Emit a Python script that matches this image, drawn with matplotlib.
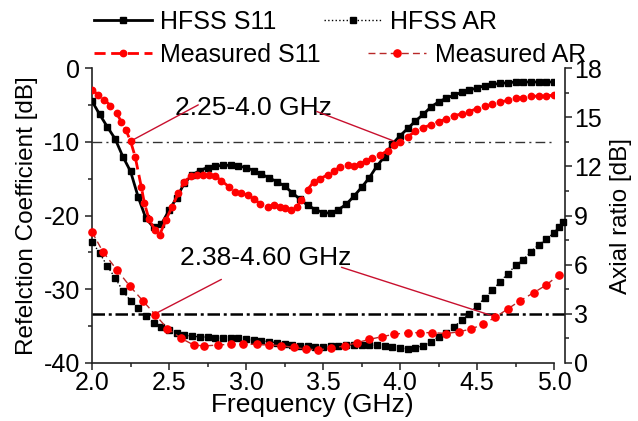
import matplotlib
matplotlib.use('Agg')
import matplotlib.pyplot as plt
from matplotlib.lines import Line2D
from matplotlib.ticker import MultipleLocator

plt.rcParams['font.family'] = ['Liberation Sans', 'DejaVu Sans']
plt.rcParams['axes.unicode_minus'] = False

# ---------------- data ----------------
freq_hfss = [2.00, 2.05, 2.10, 2.15, 2.20, 2.25, 2.30, 2.35, 2.40, 2.45,
             2.50, 2.55, 2.60, 2.65, 2.70, 2.75, 2.80, 2.85, 2.90, 2.95,
             3.00, 3.05, 3.10, 3.15, 3.20, 3.25, 3.30, 3.35, 3.40, 3.45,
             3.50, 3.55, 3.60, 3.65, 3.70, 3.75, 3.80, 3.85, 3.90, 3.95,
             4.00, 4.05, 4.10, 4.15, 4.20, 4.25, 4.30, 4.35, 4.40, 4.45,
             4.50, 4.55, 4.60, 4.65, 4.70, 4.75, 4.80, 4.85, 4.90, 4.95,
             5.00]
hfss_s11 = [-4.5, -6.3, -8.0, -9.6, -12.0, -14.0, -17.5, -20.4, -21.6, -21.2,
            -19.3, -17.6, -15.6, -14.5, -13.9, -13.5, -13.3, -13.2, -13.2, -13.3,
            -13.5, -13.9, -14.4, -14.9, -15.4, -16.0, -16.9, -17.8, -18.6, -19.2,
            -19.6, -19.7, -19.2, -18.5, -17.4, -16.2, -14.9, -13.3, -12.0, -10.3,
            -9.2, -8.2, -7.2, -6.3, -5.3, -4.6, -4.1, -3.7, -3.3, -3.0,
            -2.7, -2.4, -2.2, -2.1, -2.0, -1.9, -1.9, -1.9, -1.9, -1.9,
            -1.9]

freq_meas_s11 = [2.00, 2.04, 2.08, 2.12, 2.16, 2.19, 2.22, 2.25, 2.28, 2.32,
                 2.34, 2.37, 2.41, 2.44, 2.48, 2.52, 2.56, 2.60, 2.64, 2.68,
                 2.72, 2.76, 2.80, 2.84, 2.89, 2.93, 2.97, 3.01, 3.05, 3.09,
                 3.14, 3.18, 3.22, 3.25, 3.29, 3.33, 3.36, 3.40, 3.44, 3.48,
                 3.53, 3.57, 3.61, 3.66, 3.70, 3.74, 3.78, 3.82, 3.87, 3.92,
                 3.96, 4.00, 4.05, 4.10, 4.15, 4.20, 4.25, 4.30, 4.35, 4.40,
                 4.45, 4.50, 4.55, 4.60, 4.65, 4.70, 4.75, 4.80, 4.85, 4.90,
                 4.95, 5.00]
meas_s11 = [-3.0, -3.6, -4.3, -5.1, -6.1, -7.3, -8.4, -9.9, -12.0, -16.1,
            -18.3, -20.5, -22.0, -22.6, -20.6, -18.8, -17.0, -15.4, -14.7, -14.5,
            -14.5, -14.5, -14.6, -15.3, -16.1, -16.8, -17.0, -17.2, -17.7, -18.4,
            -18.8, -18.6, -18.9, -19.0, -19.3, -18.8, -17.9, -16.5, -15.4, -15.0,
            -14.5, -14.0, -13.4, -13.2, -13.3, -13.0, -12.6, -12.2, -11.8, -11.2,
            -10.4, -10.0, -9.3, -8.6, -8.1, -7.7, -7.3, -6.9, -6.5, -6.2,
            -5.9, -5.5, -5.2, -4.9, -4.6, -4.4, -4.1, -4.0, -3.85, -3.8,
            -3.75, -3.7]

freq_hfss_ar = [2.00, 2.05, 2.10, 2.15, 2.20, 2.25, 2.30, 2.35, 2.40, 2.45,
                2.50, 2.55, 2.60, 2.65, 2.70, 2.75, 2.80, 2.85, 2.90, 2.95,
                3.00, 3.05, 3.10, 3.15, 3.20, 3.25, 3.30, 3.35, 3.40, 3.45,
                3.50, 3.55, 3.60, 3.65, 3.70, 3.75, 3.80, 3.85, 3.90, 3.95,
                4.00, 4.05, 4.10, 4.15, 4.20, 4.25, 4.30, 4.35, 4.40, 4.45,
                4.50, 4.55, 4.60, 4.65, 4.70, 4.75, 4.80, 4.85, 4.90, 4.95,
                5.00, 5.03, 5.06]
hfss_ar = [7.4, 6.7, 5.9, 5.2, 4.4, 3.8, 3.35, 2.85, 2.45, 2.2,
           2.0, 1.85, 1.72, 1.63, 1.6, 1.57, 1.53, 1.5, 1.5, 1.5,
           1.45, 1.4, 1.36, 1.3, 1.24, 1.18, 1.12, 1.05, 1.02, 1.0,
           1.0, 1.02, 1.06, 1.1, 1.1, 1.1, 1.1, 1.08, 1.02, 0.95,
           0.9, 0.88, 0.92, 1.05, 1.3, 1.6, 1.85, 2.2, 2.6, 3.0,
           3.5, 3.95, 4.45, 4.95, 5.45, 5.95, 6.3, 6.8, 7.2, 7.55,
           7.95, 8.3, 8.6]

freq_meas_ar = [2.00, 2.07, 2.16, 2.245, 2.33, 2.41, 2.49, 2.58, 2.66, 2.73,
                2.82, 2.90, 2.98, 3.07, 3.15, 3.23, 3.31, 3.39, 3.47, 3.55,
                3.64, 3.72, 3.80, 3.88, 3.96, 4.05, 4.13, 4.21, 4.30, 4.38,
                4.46, 4.54, 4.62, 4.70, 4.78, 4.87, 4.95, 5.03]
meas_ar = [8.0, 6.8, 5.7, 4.7, 3.8, 2.95, 2.1, 1.5, 1.1, 1.04,
           1.1, 1.14, 1.14, 1.14, 1.1, 1.06, 0.95, 0.85, 0.8, 0.9,
           1.04, 1.24, 1.44, 1.6, 1.75, 1.85, 1.85, 1.85, 1.8, 1.9,
           2.07, 2.36, 2.8, 3.3, 3.8, 4.3, 4.76, 5.37]

s11_threshold = -10
ar_threshold = 3
x_ticks = [2.0, 2.5, 3.0, 3.5, 4.0, 4.5, 5.0]
s11_ticks = [-40, -30, -20, -10, 0]
ar_ticks = [0, 3, 6, 9, 12, 15, 18]

band_s11_label = '2.25-4.0 GHz'
band_ar_label = '2.38-4.60 GHz'

# ---------------- figure ----------------
W, H = 638, 421
fig = plt.figure(figsize=(W / 100, H / 100), dpi=100)
ax = fig.add_axes([92 / W, 1 - 363 / H, (554 - 92) / W, (363 - 68) / H])
ax2 = ax.twinx()

ax.set_xlim(2.0, 5.0)
ax.set_ylim(-40, 0)
ax2.set_ylim(0, 18)

spine_c = '#222222'
for s in ['top', 'right']:
    ax.spines[s].set_visible(False)
for s in ['top', 'left', 'bottom']:
    ax2.spines[s].set_visible(False)
for sp in [ax.spines['left'], ax.spines['bottom'], ax2.spines['right']]:
    sp.set_linewidth(1.2)
    sp.set_color(spine_c)
ax2.spines['right'].set_position(('outward', 8))

ax.set_xticks(x_ticks)
ax.set_xticklabels([f'{v:.1f}' for v in x_ticks])
ax.set_yticks(s11_ticks)
ax2.set_yticks(ar_ticks)
ax.xaxis.set_minor_locator(MultipleLocator(0.25))
ax.yaxis.set_minor_locator(MultipleLocator(5))
ax2.yaxis.set_minor_locator(MultipleLocator(1.5))

ax.tick_params(axis='both', which='major', direction='out', length=5,
               width=1.1, color=spine_c, labelsize=18)
ax.tick_params(axis='both', which='minor', direction='out', length=3,
               width=1.1, color=spine_c)
ax.tick_params(axis='x', which='major', pad=1)
ax.tick_params(axis='y', which='major', pad=3.5)
ax.tick_params(top=False, right=False, which='both')
ax2.tick_params(axis='y', which='major', direction='out', length=5,
                width=1.1, color=spine_c, labelsize=18, pad=1.5)
ax2.tick_params(axis='y', which='minor', direction='out', length=3,
                width=1.1, color=spine_c)

# threshold lines
ax.axhline(s11_threshold, color='#333333', lw=1.0, ls=(0, (7, 3, 1.5, 3)), zorder=1)
ax2.axhline(ar_threshold, xmin=0, xmax=1.024, color='black', lw=1.8,
            ls=(0, (5, 1.5, 1.2, 1.5)), clip_on=False, zorder=1)

# curves
ax.plot(freq_hfss, hfss_s11, color='black', lw=2.0, marker='s', ms=3.8,
        zorder=3)
ax.plot(freq_meas_s11, meas_s11, color='red', lw=2.0, ls=(0, (4, 2)),
        marker='o', ms=4.6, zorder=4)
ax2.plot(freq_hfss_ar, hfss_ar, color='black', lw=1.0, ls=':', marker='s',
         ms=4.6, clip_on=False, zorder=3)
ax2.plot(freq_meas_ar, meas_ar, color='#b82828', lw=1.0, ls=(0, (5, 3)),
         marker='o', ms=5.2, mfc='red', mec='red', clip_on=False, zorder=4)

# annotations
ann_c = '#c8102e'
ax.text(2.539, -6.4, band_s11_label, ha='left', va='baseline', fontsize=19)
ax.annotate('', xy=(2.27, -9.7), xytext=(2.69, -5.0),
            arrowprops=dict(arrowstyle='-', color=ann_c, lw=1.0, shrinkA=0, shrinkB=0))
ax.annotate('', xy=(3.96, -9.9), xytext=(3.46, -5.9),
            arrowprops=dict(arrowstyle='-', color=ann_c, lw=1.0, shrinkA=0, shrinkB=0))
ax2.text(2.571, 5.98, band_ar_label, ha='left', va='baseline', fontsize=19)
ax2.annotate('', xy=(2.42, 3.05), xytext=(2.84, 5.1),
             arrowprops=dict(arrowstyle='-', color=ann_c, lw=1.0, shrinkA=0, shrinkB=0))
ax2.annotate('', xy=(4.61, 2.85), xytext=(3.62, 5.84),
             arrowprops=dict(arrowstyle='-', color=ann_c, lw=1.0, shrinkA=0, shrinkB=0))

# axis labels
ax.set_xlabel('Frequency (GHz)', fontsize=19)
ax.xaxis.label.set_va('baseline')
ax.xaxis.set_label_coords(0.477, (363 - 412) / 295)
ax.set_ylabel('Refelction Coefficient [dB]', fontsize=17.5)
ax.yaxis.set_label_coords((38 - 92) / 462, 0.5)
ax2.set_ylabel('Axial ratio [dB]', fontsize=17.5)
ax2.yaxis.set_label_coords((610 - 92) / 462, 0.5)

# legends (two rows laid out independently)
h1 = Line2D([], [], color='black', lw=2.0, marker='s', ms=3.8)
h2 = Line2D([], [], color='black', lw=1.0, ls=':', marker='s', ms=4.6)
h3 = Line2D([], [], color='red', lw=2.0, ls=(0, (4, 2)), marker='o', ms=4.6)
h4 = Line2D([], [], color='#b82828', lw=1.0, ls=(0, (5, 3)), marker='o', ms=5.2,
            mfc='red', mec='red')
common = dict(ncol=2, loc='center left', frameon=False, fontsize=18,
              handlelength=2.3, handletextpad=0.35, columnspacing=1.9,
              borderpad=0, borderaxespad=0, numpoints=1)
fig.legend(handles=[h1, h2], labels=['HFSS S11', 'HFSS AR'],
           bbox_to_anchor=(94 / W, 1 - 22 / H), **common)
fig.legend(handles=[h3, h4], labels=['Measured S11', 'Measured AR'],
           bbox_to_anchor=(94 / W, 1 - 55 / H), **common)

fig.savefig('out.png', dpi=100)
